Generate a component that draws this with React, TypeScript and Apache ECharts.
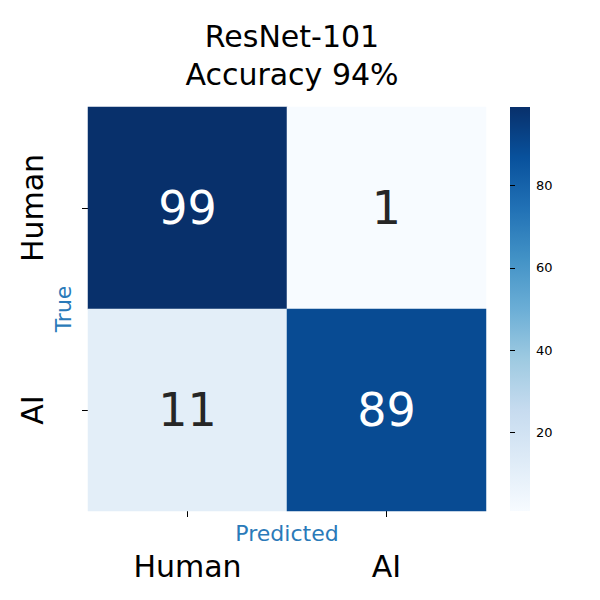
import React, { useEffect, useRef } from "react";
import * as echarts from "echarts";

const predicted = ["Human", "AI"];
const trueLabels = ["Human", "AI"];
const matrix = [
  [99, 1],
  [11, 89],
];
const cbTicks = [20, 40, 60, 80];
const blues = ["#f7fbff", "#deebf7", "#c6dbef", "#9ecae1", "#6baed6", "#4292c6", "#2171b5", "#08519c", "#08306b"];
const vmin = 1, vmax = 99;

export default function App() {
  const ref = useRef<HTMLDivElement>(null);
  useEffect(() => {
    const chart = echarts.init(ref.current!, null, { renderer: "svg" });
    const data: any[] = [];
    matrix.forEach((row, r) =>
      row.forEach((v, c) =>
        data.push({ value: [c, r, v], label: { color: v > 50 ? "#ffffff" : "#262626" } })
      )
    );
    const font = "DejaVu Sans";
    const nameStyle = { fontSize: 22, fill: "#2a7ab9", fontFamily: font };
    chart.setOption({
      animation: false,
      textStyle: { fontFamily: font },
      title: {
        text: "ResNet-101\nAccuracy 94%",
        left: 287, top: 12, textAlign: "center",
        textStyle: { fontSize: 30, fontWeight: "normal", color: "#000", lineHeight: 38, fontFamily: font },
      },
      grid: [
        { left: 88, top: 107, width: 398, height: 404, containLabel: false, outerBoundsMode: "none" },
        { left: 510, top: 107, width: 20, height: 404, containLabel: false, outerBoundsMode: "none" },
      ],
      xAxis: [
        {
          gridIndex: 0, type: "category", data: predicted, position: "bottom",
          axisLine: { show: false }, splitLine: { show: false },
          axisTick: { show: true, alignWithLabel: true, length: 6, lineStyle: { color: "#000" } },
          axisLabel: { fontSize: 30, color: "#000", margin: 40, fontFamily: font },
        },
        { gridIndex: 1, type: "value", show: false, min: 0, max: 1 },
      ],
      yAxis: [
        {
          gridIndex: 0, type: "category", data: trueLabels, inverse: true,
          axisLine: { show: false }, splitLine: { show: false },
          axisTick: { show: true, alignWithLabel: true, length: 6, lineStyle: { color: "#000" } },
          axisLabel: { fontSize: 30, color: "#000", rotate: 90, align: "center", verticalAlign: "middle", margin: 56, fontFamily: font },
        },
        {
          gridIndex: 1, type: "value", position: "right", min: vmin, max: vmax,
          interval: 20,
          axisLine: { show: false }, splitLine: { show: false },
          axisTick: { show: true, length: 5, lineStyle: { color: "#000" }, customValues: cbTicks },
          axisLabel: { fontSize: 13, color: "#000", margin: 6, customValues: cbTicks, fontFamily: font },
        },
      ],
      visualMap: { show: false, min: vmin, max: vmax, seriesIndex: 0, inRange: { color: blues } },
      graphic: [
        {
          type: "rect", shape: { x: 510, y: 107, width: 20, height: 404 }, z: -1,
          style: {
            fill: new echarts.graphic.LinearGradient(0, 1, 0, 0,
              blues.map((c, i) => ({ offset: i / (blues.length - 1), color: c }))),
          },
        },
        {
          type: "text", x: 287, y: 533,
          style: { ...nameStyle, text: "Predicted", align: "center", verticalAlign: "middle" },
        },
        {
          type: "text", x: 63, y: 309, rotation: Math.PI / 2,
          style: { ...nameStyle, text: "True", align: "center", verticalAlign: "middle" },
        },
      ],
      series: [
        {
          type: "heatmap", xAxisIndex: 0, yAxisIndex: 0, data,
          label: { show: true, fontSize: 46, fontFamily: font },
        },
        { type: "scatter", xAxisIndex: 1, yAxisIndex: 1, data: [] },
      ],
    });
    return () => chart.dispose();
  }, []);
  return <div ref={ref} style={{ width: 600, height: 600, margin: -8 }} />;
}
